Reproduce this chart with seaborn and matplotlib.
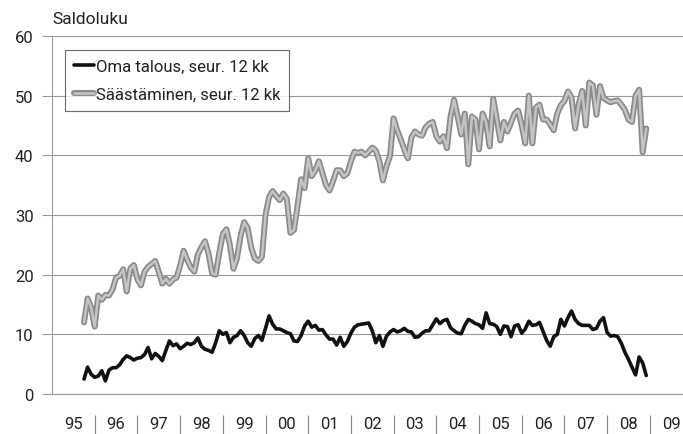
import numpy as np
import pandas as pd
import matplotlib
matplotlib.use("Agg")
import matplotlib.pyplot as plt
import matplotlib.patheffects as pe
import seaborn as sns

# Monthly data, Oct 1995 - Dec 2008
start_year, start_month = 1995, 10

oma = [2.5, 4.5, 3.3, 2.8, 3.0, 3.9, 2.2, 4.0, 4.4, 4.4, 4.9, 5.8, 6.4, 6.1, 5.7, 6.0, 6.1, 6.6, 7.8, 5.9,
       6.8, 6.3, 5.6, 7.3, 8.9, 8.1, 8.4, 7.6, 8.0, 8.5, 8.3, 8.6, 9.4, 8.0, 7.5, 7.3, 7.0, 8.6, 10.6, 10.0,
       10.3, 8.6, 9.5, 9.8, 10.6, 9.8, 8.6, 8.0, 9.3, 9.8, 9.0, 11.0, 13.1,
       11.7, 10.9, 10.9, 10.6, 10.3, 10.1, 8.9, 8.8, 9.8, 11.4, 12.2, 11.2, 11.5, 10.7, 10.8,
       9.9, 9.2, 9.2, 8.2, 9.5, 8.0, 8.8, 10.2, 11.2, 11.6, 11.7, 11.8, 11.9, 10.6, 8.6,
       9.8, 8.0, 9.7, 10.4, 10.8, 10.4, 10.6, 11.0, 10.5, 10.4, 9.5, 9.6, 10.2, 10.6, 10.6,
       11.6, 12.6, 11.8, 12.3, 12.5, 11.1, 10.6, 10.2,
       10.1, 11.5, 12.5, 12.2, 11.8, 11.6, 11.0, 13.6, 11.8, 11.7, 11.3, 10.0, 11.4, 11.3, 9.6,
       11.4, 11.6, 10.2, 10.9, 12.2, 11.5, 11.6, 12.0, 10.5, 9.0, 8.0, 9.6, 10.0, 12.5, 11.4,
       12.8, 13.9, 12.5, 11.8, 11.5, 11.5, 11.5, 10.8, 11.0, 12.2, 12.8, 10.3, 9.7, 9.8, 9.6,
       8.5, 7.0, 5.8, 4.5, 3.2, 6.2, 5.2, 3.1]

saast = [12.0, 16.0, 14.5, 11.3, 16.5, 15.8, 16.6, 16.5, 17.5, 19.5, 19.8, 20.9, 17.2, 21.0, 21.6,
         19.2, 18.2, 20.5, 21.3, 21.8, 22.3, 20.5, 18.5, 19.3, 18.5, 19.2, 19.5, 21.5, 24.0, 22.5,
         21.2, 20.5, 23.4, 24.6, 25.6, 23.5, 20.2, 20.0, 23.6, 26.8, 27.6, 25.0, 21.0, 22.8, 26.5,
         28.8, 27.8, 24.5, 22.7, 22.3, 23.0, 30.0, 33.0,
         34.0, 33.2, 32.5, 33.6, 32.7, 27.0, 27.5, 31.5, 36.0, 34.5, 39.5, 36.5, 37.5, 39.0, 37.0,
         35.0, 34.1, 35.7, 37.5,
         37.5, 36.5, 37.0, 39.0, 40.6, 40.4, 40.6, 40.0, 40.6, 41.3, 40.8, 39.0, 35.8, 38.2, 39.9,
         46.2, 44.2, 42.7, 41.0, 39.5, 43.0, 44.0, 43.5, 43.3, 44.7, 45.3, 45.6, 43.2, 42.3, 43.2,
         41.2, 46.5, 49.3, 46.5, 43.5, 47.0, 38.5, 46.5, 46.0, 41.0, 47.0, 45.5, 41.5, 49.5, 46.0,
         42.5, 45.6, 44.0, 45.5, 47.0, 47.5, 45.0, 42.0, 50.0, 42.0, 48.0, 48.5, 46.0, 46.0, 45.2,
         44.2, 47.0, 48.4, 49.1, 50.7, 49.7, 44.5, 48.5, 50.8, 45.0, 52.2, 51.7, 46.8, 51.6, 49.6,
         49.2, 48.9, 49.1, 49.2, 48.5, 47.6, 46.0, 45.6, 50.0, 51.0, 40.5, 44.5]

year_labels = ["95", "96", "97", "98", "99", "00", "01", "02", "03", "04", "05", "06", "07", "08", "09"]
series_names = ["Oma talous, seur. 12 kk", "Säästäminen, seur. 12 kk"]
y_title = "Saldoluku"

n = len(oma)
t = start_year + (start_month - 1) / 12 + np.arange(n) / 12
df = pd.DataFrame({"t": t, "oma": oma, "saast": saast})

sns.set_style("white")
plt.rcParams['font.family'] = ['Roboto', 'DejaVu Sans']
plt.rcParams['text.color'] = '#222222'

fig = plt.figure(figsize=(6.83, 4.35), dpi=100)
ax = fig.add_axes([52 / 683, 40 / 435, 631 / 683, 358 / 435])
ax.set_axisbelow(True)

grey_fx = [pe.Stroke(linewidth=4.3, foreground="#8a8a8a"), pe.Normal()]
sns.lineplot(data=df, x="t", y="saast", ax=ax, color="#c4c4c4", lw=1.8,
             label=series_names[1], path_effects=grey_fx)
sns.lineplot(data=df, x="t", y="oma", ax=ax, color="#111111", lw=2.6,
             label=series_names[0])

ax.set_xlim(1995, 1995 + 631 / 42.7)
ax.set_ylim(0, 60)
ax.set_yticks(range(0, 61, 10))
ax.yaxis.grid(True, color="#9a9a9a", lw=0.8)
ax.set_xticks(np.arange(len(year_labels)) + 1995.5)
ax.set_xticklabels(year_labels)
ax.tick_params(axis='x', bottom=False, length=0, pad=16, labelsize=12, labelcolor="#222222")
ax.tick_params(axis='y', left=True, length=7.2, width=0.8, color="#9a9a9a", pad=6,
               direction='out', labelsize=12, labelcolor="#222222")
for s in ["top", "right"]:
    ax.spines[s].set_visible(False)
for s in ["left", "bottom"]:
    ax.spines[s].set_color("#9a9a9a")
    ax.spines[s].set_linewidth(0.8)
ax.set_xlabel("")
ax.set_ylabel("")

ax.vlines(np.arange(1996, 2010), -0.058, -0.112, transform=ax.get_xaxis_transform(),
          clip_on=False, color="#888888", lw=0.8)

fig.text(52 / 683, 1 - 20 / 435, y_title, ha='left', va='center', fontsize=12.5)

handles, labs = ax.get_legend_handles_labels()
order = [labs.index(series_names[0]), labs.index(series_names[1])]
leg = ax.legend([handles[i] for i in order], [labs[i] for i in order],
                loc='upper left', bbox_to_anchor=(0.0206, 0.962), borderaxespad=0,
                fontsize=12, frameon=True, fancybox=False, edgecolor="#444444",
                handlelength=1.2, handletextpad=0.1, labelspacing=0.78, borderpad=0.55)
leg.get_frame().set_linewidth(0.8)

fig.savefig("out.png", dpi=100)
